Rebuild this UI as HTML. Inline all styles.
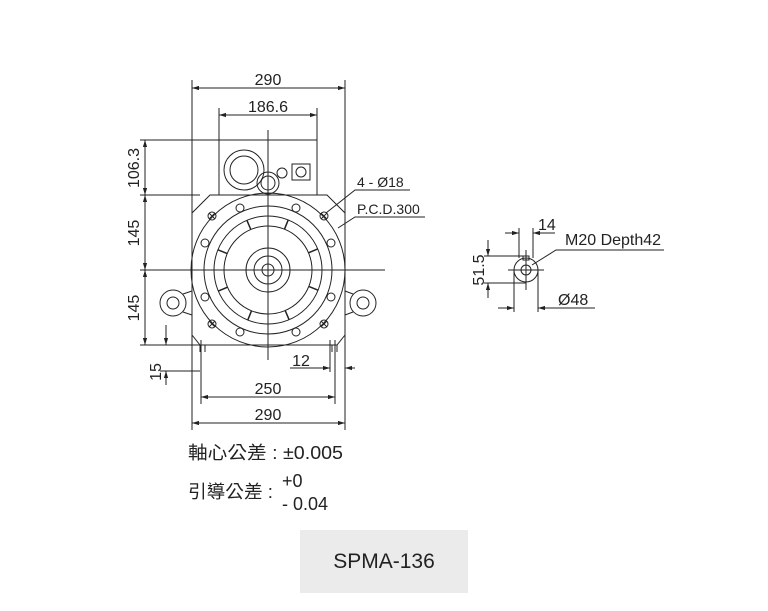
<!DOCTYPE html>
<html><head><meta charset="utf-8"><style>
html,body{margin:0;padding:0;background:#fff;width:768px;height:611px;overflow:hidden}
svg{position:absolute;left:0;top:0}
text{font-family:"Liberation Sans","Noto Sans CJK TC",sans-serif;fill:#222}
</style></head><body>
<svg width="768" height="611" viewBox="0 0 768 611">
<defs>
<marker id="a" viewBox="0 0 10 10" refX="10" refY="5" markerWidth="7" markerHeight="7" orient="auto-start-reverse"><path d="M0,2 L10,5 L0,8 z" fill="#222"/></marker>
</defs>
<g stroke="#222" stroke-width="1" fill="none">
<line x1="192" y1="80" x2="192" y2="430"/><line x1="345" y1="80" x2="345" y2="430"/>
<line x1="219" y1="108" x2="219" y2="140"/><line x1="317" y1="108" x2="317" y2="140"/>
<line x1="140" y1="140" x2="219" y2="140"/><line x1="140" y1="195" x2="200" y2="195"/>
<line x1="140" y1="345" x2="200" y2="345"/><line x1="160" y1="371" x2="200" y2="371"/>
<line x1="201" y1="340" x2="201" y2="404"/><line x1="335" y1="340" x2="335" y2="404"/>
<line x1="330" y1="340" x2="330" y2="372"/>
<line x1="192" y1="88" x2="345" y2="88" marker-start="url(#a)" marker-end="url(#a)"/>
<line x1="219" y1="115" x2="317" y2="115" marker-start="url(#a)" marker-end="url(#a)"/>
<line x1="145" y1="140" x2="145" y2="195" marker-start="url(#a)" marker-end="url(#a)"/>
<line x1="145" y1="195" x2="145" y2="270" marker-start="url(#a)" marker-end="url(#a)"/>
<line x1="145" y1="270" x2="145" y2="345" marker-start="url(#a)" marker-end="url(#a)"/>
<line x1="166" y1="325" x2="166" y2="345" marker-end="url(#a)"/>
<line x1="166" y1="371" x2="166" y2="385" marker-start="url(#a)"/>
<line x1="290" y1="368" x2="330" y2="368" marker-end="url(#a)"/>
<line x1="345" y1="368" x2="355" y2="368" marker-start="url(#a)"/>
<line x1="201" y1="397" x2="335" y2="397" marker-start="url(#a)" marker-end="url(#a)"/>
<line x1="192" y1="423" x2="345" y2="423" marker-start="url(#a)" marker-end="url(#a)"/>
<line x1="140" y1="270" x2="385" y2="270"/><line x1="268" y1="130" x2="268" y2="360"/>
<rect x="219" y="140" width="98" height="55"/>
<circle cx="244" cy="170" r="20"/><circle cx="244" cy="170" r="14"/>
<circle cx="268" cy="183" r="11"/><circle cx="268" cy="183" r="7"/>
<circle cx="282" cy="173" r="5"/><rect x="292" y="164" width="18" height="16"/><circle cx="301" cy="172" r="5"/>
<path d="M210,195 H327 L345,213 V335 L337,345 H200 L192,335 V213 Z"/>
<line x1="200" y1="345" x2="200" y2="352"/><line x1="205" y1="345" x2="205" y2="352"/>
<line x1="332" y1="345" x2="332" y2="352"/><line x1="337" y1="345" x2="337" y2="352"/>
<circle cx="173" cy="303" r="13"/><circle cx="173" cy="303" r="6"/>
<line x1="183" y1="294" x2="192" y2="291"/><line x1="183" y1="312" x2="192" y2="315"/>
<circle cx="363" cy="303" r="13"/><circle cx="363" cy="303" r="6"/>
<line x1="353" y1="294" x2="345" y2="291"/><line x1="353" y1="312" x2="345" y2="315"/>
<circle cx="268" cy="270" r="77"/><circle cx="268" cy="270" r="64"/>
<circle cx="268" cy="270" r="54"/><circle cx="268" cy="270" r="44"/>
<circle cx="268" cy="270" r="22"/><circle cx="268" cy="270" r="14"/><circle cx="268" cy="270" r="6"/>
<g stroke-width="1.5">
<line x1="268" y1="226" x2="268" y2="216" transform="rotate(22 268 270)"/>
<line x1="268" y1="226" x2="268" y2="216" transform="rotate(67 268 270)"/>
<line x1="268" y1="226" x2="268" y2="216" transform="rotate(112 268 270)"/>
<line x1="268" y1="226" x2="268" y2="216" transform="rotate(157 268 270)"/>
<line x1="268" y1="226" x2="268" y2="216" transform="rotate(202 268 270)"/>
<line x1="268" y1="226" x2="268" y2="216" transform="rotate(247 268 270)"/>
<line x1="268" y1="226" x2="268" y2="216" transform="rotate(292 268 270)"/>
<line x1="268" y1="226" x2="268" y2="216" transform="rotate(337 268 270)"/>
</g>
<g>
<circle cx="240" cy="208" r="4"/><circle cx="296" cy="208" r="4"/>
<circle cx="240" cy="332" r="4"/><circle cx="296" cy="332" r="4"/>
<circle cx="205" cy="243" r="4"/><circle cx="205" cy="297" r="4"/>
<circle cx="331" cy="243" r="4"/><circle cx="331" cy="297" r="4"/>
<circle cx="212" cy="216" r="4"/><circle cx="324" cy="216" r="4"/>
<circle cx="212" cy="324" r="4"/><circle cx="324" cy="324" r="4"/>
<path d="M209,213 l6,6 M215,213 l-6,6 M321,213 l6,6 M327,213 l-6,6 M209,321 l6,6 M215,321 l-6,6 M321,321 l6,6 M327,321 l-6,6"/>
</g>
<polyline points="326,213 355,190 410,190"/>
<polyline points="338,228 355,217 425,217"/>
<circle cx="526" cy="270" r="12"/><circle cx="526" cy="270" r="5"/>
<rect x="523" y="256" width="6" height="4"/>
<line x1="508" y1="270" x2="544" y2="270"/><line x1="526" y1="250" x2="526" y2="290"/>
<line x1="519" y1="228" x2="519" y2="258"/><line x1="533" y1="228" x2="533" y2="258"/>
<line x1="505" y1="233" x2="519" y2="233" marker-end="url(#a)"/>
<line x1="533" y1="233" x2="555" y2="233" marker-start="url(#a)"/>
<line x1="484" y1="256" x2="523" y2="256"/><line x1="484" y1="283" x2="526" y2="283"/>
<line x1="488" y1="240" x2="488" y2="256" marker-end="url(#a)"/>
<line x1="488" y1="283" x2="488" y2="298" marker-start="url(#a)"/>
<line x1="514" y1="270" x2="514" y2="312"/><line x1="538" y1="270" x2="538" y2="312"/>
<line x1="498" y1="308" x2="514" y2="308" marker-end="url(#a)"/>
<line x1="538" y1="308" x2="595" y2="308" marker-start="url(#a)"/>
<polyline points="532,265 556,250 664,250"/>
</g>
<g font-size="16">
<text x="268" y="85" text-anchor="middle">290</text>
<text x="268" y="112" text-anchor="middle">186.6</text>
<text x="139" y="168" text-anchor="middle" transform="rotate(-90 139 168)">106.3</text>
<text x="139" y="233" text-anchor="middle" transform="rotate(-90 139 233)">145</text>
<text x="139" y="308" text-anchor="middle" transform="rotate(-90 139 308)">145</text>
<text x="161" y="372" text-anchor="middle" transform="rotate(-90 161 372)">15</text>
<text x="301" y="366" text-anchor="middle">12</text>
<text x="268" y="394" text-anchor="middle">250</text>
<text x="268" y="420" text-anchor="middle">290</text>
<text x="357" y="187" font-size="14">4 - Ø18</text>
<text x="357" y="214" font-size="14">P.C.D.300</text>
<text x="538" y="230">14</text>
<text x="565" y="245">M20 Depth42</text>
<text x="484" y="270" text-anchor="middle" transform="rotate(-90 484 270)">51.5</text>
<text x="558" y="305">Ø48</text>
<text x="188" y="459" font-size="18" textLength="155" lengthAdjust="spacingAndGlyphs">軸心公差 : ±0.005</text>
<text x="188" y="498" font-size="18" textLength="85" lengthAdjust="spacingAndGlyphs">引導公差 :</text>
<text x="282" y="487" font-size="18">+0</text>
<text x="282" y="510" font-size="18">- 0.04</text>
</g>
<rect x="300" y="530" width="168" height="63" fill="#ebebeb"/>
<text x="384" y="568" font-size="21" text-anchor="middle">SPMA-136</text>
</svg>
</body></html>
